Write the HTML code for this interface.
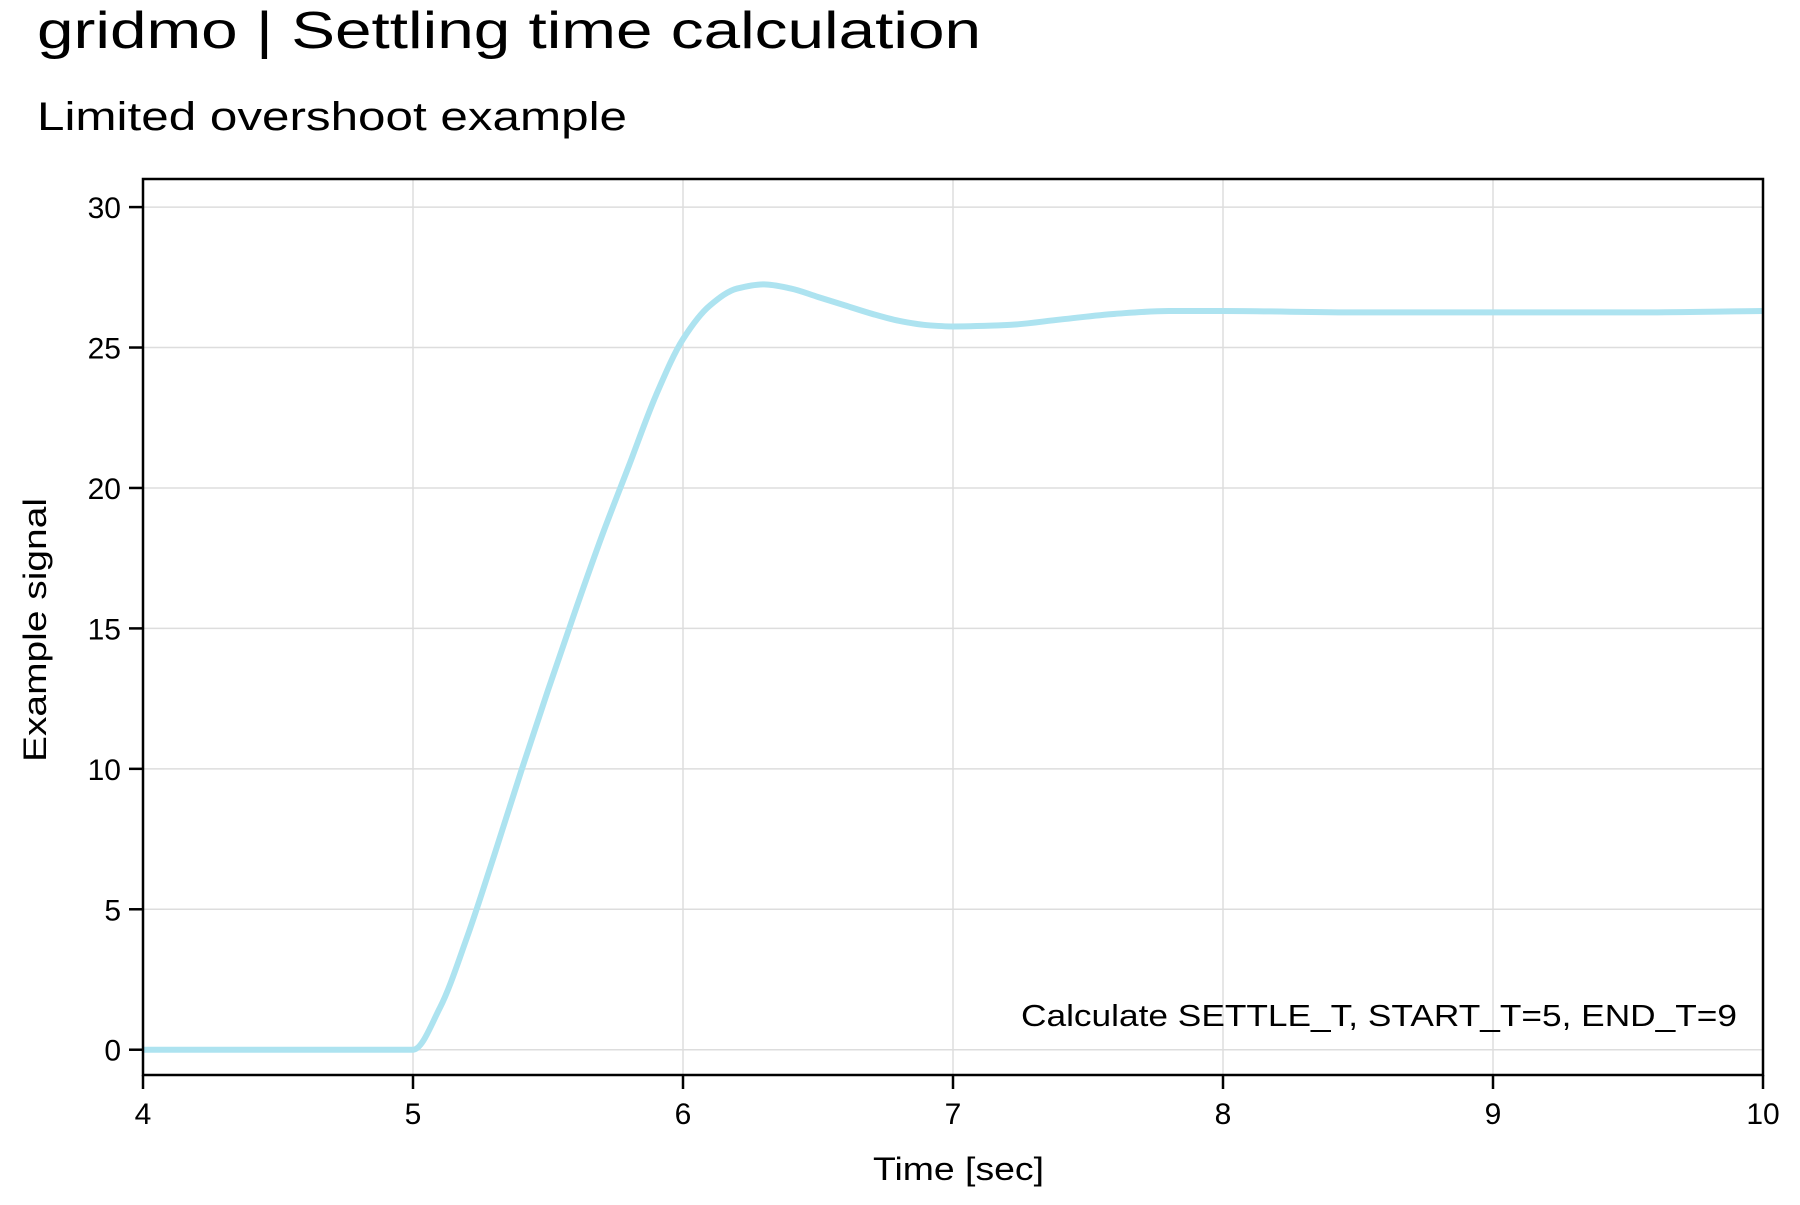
<!DOCTYPE html>
<html><head><meta charset="utf-8"><style>
body{margin:0;background:#fff;}
svg text{font-family:"Liberation Sans",sans-serif;fill:#000;}
</style></head><body>
<svg id="chart" width="1800" height="1200" viewBox="0 0 1800 1200" xmlns="http://www.w3.org/2000/svg">
<text x="37" y="48" font-size="52" textLength="944" lengthAdjust="spacingAndGlyphs">gridmo | Settling time calculation</text>
<text x="37" y="130" font-size="40" textLength="590" lengthAdjust="spacingAndGlyphs">Limited overshoot example</text>
<g id="grid"></g>
<g id="ticks"></g>
<path id="series" fill="none" stroke="#ade3f0" stroke-width="6" stroke-linejoin="round"/>
<rect x="143" y="179" width="1620" height="896" fill="none" stroke="#000" stroke-width="2.5"/>
<text x="1021" y="1026" font-size="31" textLength="716" lengthAdjust="spacingAndGlyphs">Calculate SETTLE_T, START_T=5, END_T=9</text>
<text x="873" y="1180" font-size="32" textLength="171" lengthAdjust="spacingAndGlyphs">Time [sec]</text>
<text x="0" y="0" font-size="32" text-anchor="middle" textLength="264" lengthAdjust="spacingAndGlyphs" transform="translate(46,630) rotate(-90)">Example signal</text>
</svg>
<script>
const xTicks=[4,5,6,7,8,9,10];
const yTicks=[0,5,10,15,20,25,30];
const times=[4,4.5,5,5.1,5.2,5.3,5.4,5.5,5.6,5.7,5.8,5.9,6.0,6.1,6.2,6.3,6.4,6.5,6.6,6.7,6.8,6.9,7.0,7.2,7.4,7.6,7.8,8.0,8.5,9,9.5,10];
const values=[0,0,0,1.5,4.0,6.9,9.9,12.8,15.6,18.3,20.8,23.3,25.3,26.5,27.1,27.25,27.1,26.8,26.5,26.2,25.95,25.8,25.75,25.8,26.0,26.2,26.3,26.3,26.25,26.25,26.25,26.3];
const X0=143,X1=1763,Y0=179,Y1=1075,xmin=4,xmax=10,ymin=-0.9,ymax=31;
const sx=v=>X0+(v-xmin)/(xmax-xmin)*(X1-X0);
const sy=v=>Y1-(v-ymin)/(ymax-ymin)*(Y1-Y0);
const NS='http://www.w3.org/2000/svg';
const grid=document.getElementById('grid'),ticks=document.getElementById('ticks');
function mk(tag,attrs,parent){const e=document.createElementNS(NS,tag);for(const k in attrs)e.setAttribute(k,attrs[k]);parent.appendChild(e);return e;}
xTicks.forEach(t=>{
  const g=mk('line',{x1:sx(t),x2:sx(t),y1:Y0,y2:Y1,stroke:'#ddd','stroke-width':1.5},grid);
  
  
  const tk=mk('line',{x1:sx(t),x2:sx(t),y1:Y1,y2:Y1+14,stroke:'#000','stroke-width':2.5},ticks);
  
  
  const lb=mk('text',{x:sx(t),y:Y1+49,'font-size':30,'text-anchor':'middle'},ticks);
  lb.textContent=t;
  
  
});
yTicks.forEach(t=>{
  const g=mk('line',{x1:X0,x2:X1,y1:sy(t),y2:sy(t),stroke:'#ddd','stroke-width':1.5},grid);
  
  
  const tk=mk('line',{x1:X0-14,x2:X0,y1:sy(t),y2:sy(t),stroke:'#000','stroke-width':2.5},ticks);
  
  
  const lb=mk('text',{x:X0-22,y:sy(t)+11,'font-size':30,'text-anchor':'end'},ticks);
  lb.textContent=t;
  
  
});
// Monotone cubic (Fritsch-Carlson) interpolation
const n=times.length,dl=[],m=new Array(n);
for(let i=0;i<n-1;i++)dl.push((values[i+1]-values[i])/(times[i+1]-times[i]));
m[0]=dl[0];m[n-1]=dl[n-2];
for(let i=1;i<n-1;i++){
  if(dl[i-1]*dl[i]<=0)m[i]=0;
  else{const h0=times[i]-times[i-1],h1=times[i+1]-times[i];const w1=2*h1+h0,w2=h1+2*h0;m[i]=(w1+w2)/(w1/dl[i-1]+w2/dl[i]);}
}
let d='M'+sx(times[0])+','+sy(values[0]);
for(let i=0;i<n-1;i++){
  const h=times[i+1]-times[i];
  const c1x=times[i]+h/3,c1y=values[i]+m[i]*h/3;
  const c2x=times[i+1]-h/3,c2y=values[i+1]-m[i+1]*h/3;
  d+=` C${sx(c1x)},${sy(c1y)} ${sx(c2x)},${sy(c2y)} ${sx(times[i+1])},${sy(values[i+1])}`;
}
document.getElementById('series').setAttribute('d',d);
</script>
</body></html>
